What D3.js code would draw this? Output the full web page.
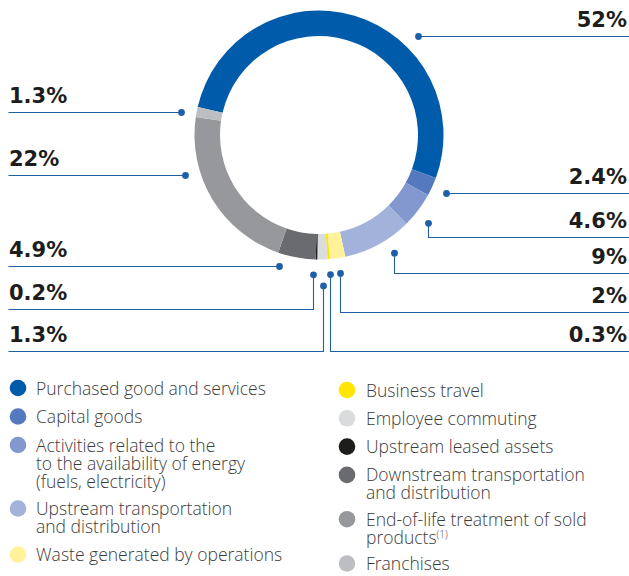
<!DOCTYPE html>
<html>
<head>
<meta charset="utf-8">
<script src="https://cdn.jsdelivr.net/npm/d3@7"></script>
<style>
  body { margin: 0; background: #fff; }
  svg { display: block; }
</style>
</head>
<body>
<svg id="chart" width="629" height="576"></svg>
<script>
// Scope 3 emission categories, in ring order (clockwise)
const categories = [
  "Purchased good and services",
  "Capital goods",
  "Activities related to the|to the availability of energy|(fuels, electricity)",
  "Upstream transportation|and distribution",
  "Waste generated by operations",
  "Business travel",
  "Employee commuting",
  "Upstream leased assets",
  "Downstream transportation|and distribution",
  "End-of-life treatment of sold|products^(1)",
  "Franchises"
];
// Share of emissions, %
const values = [52, 2.4, 4.6, 9, 2, 0.3, 1.3, 0.2, 4.9, 22, 1.3];
const colors = [
  "#005bab", "#5479bf", "#8298cf", "#a3b2da", "#fff29a", "#ffe500",
  "#dadbdc", "#1d1d1b", "#6a6b6f", "#97989b", "#bdbec1"
];
const valueLabels = values.map(v => v + "%");

// Leader-line layout for each slice's value label
// (da: nudge of the dot along the ring, in degrees)
const leaders = [
  { side: "right", y: 36,  mode: "level" },
  { side: "right", y: 193, mode: "level" },
  { side: "right", y: 237, mode: "elbow", da: 2 },
  { side: "right", y: 273, mode: "elbow", da: -4 },
  { side: "right", y: 312, mode: "elbow" },
  { side: "right", y: 351, mode: "elbow" },
  { side: "left",  y: 351, mode: "elbow", r: 151 },
  { side: "left",  y: 309, mode: "elbow", da: 1.5 },
  { side: "left",  y: 266, mode: "level", r: 137 },
  { side: "left",  y: 175, mode: "level" },
  { side: "left",  y: 112, mode: "level" }
];

const W = 629, H = 576;
const cx = 319, cy = 135;
const outerR = 124.5, innerR = 99, dotR = 140;
const lineColor = "#1f5fa8";
const textColor = "#1d1d1b";

const svg = d3.select("#chart");

const start = -77 * Math.PI / 180;
const pie = d3.pie().sort(null).value(d => d)
  .startAngle(start).endAngle(start + 2 * Math.PI);
const arcs = pie(values);
const arc = d3.arc().innerRadius(innerR).outerRadius(outerR);

const ring = svg.append("g").attr("transform", `translate(${cx},${cy})`);
ring.selectAll("path")
  .data(arcs)
  .join("path")
  .attr("d", arc)
  .attr("fill", (d, i) => colors[i]);

// Leader lines, dots and value labels
const ann = svg.append("g");
arcs.forEach((a, i) => {
  const L = leaders[i];
  const r = L.r || dotR;
  let dx, dy;
  if (L.mode === "level") {
    dy = L.y - cy;
    dx = Math.sqrt(Math.max(0, r * r - dy * dy)) * (L.side === "right" ? 1 : -1);
  } else {
    const m = (a.startAngle + a.endAngle) / 2 + (L.da || 0) * Math.PI / 180;
    dx = r * Math.sin(m);
    dy = -r * Math.cos(m);
  }
  const px = cx + dx, py = cy + dy;
  const endX = L.side === "right" ? W : 8;
  const pts = L.mode === "level"
    ? [[px, L.y], [endX, L.y]]
    : [[px, py], [px, L.y], [endX, L.y]];
  ann.append("path")
    .attr("d", d3.line()(pts.map(p => [Math.round(p[0]) + 0.5, Math.round(p[1]) + 0.5])))
    .attr("fill", "none")
    .attr("stroke", lineColor)
    .attr("stroke-width", 1.1);
  ann.append("circle")
    .attr("cx", Math.round(px) + 0.5)
    .attr("cy", L.mode === "level" ? L.y + 0.5 : py)
    .attr("r", 3.4)
    .attr("fill", lineColor);
  ann.append("text")
    .attr("x", L.side === "right" ? 627 : 9)
    .attr("y", L.y - 9.5)
    .attr("text-anchor", L.side === "right" ? "end" : "start")
    .attr("font-family", "'DejaVu Sans', sans-serif")
    .attr("font-weight", "bold")
    .attr("font-size", 21)
    .attr("fill", textColor)
    .text(valueLabels[i]);
});

// Legend: two columns
const legend = svg.append("g")
  .attr("font-family", "'Open Sans', sans-serif")
  .attr("font-size", 17.5)
  .attr("font-weight", 300)
  .attr("fill", "#3c3c3b");

const columns = [
  { from: 0, to: 5,  cxDot: 18,  tx: 36,  y0: 388, step: 28.5, extra: 17.5 },
  { from: 5, to: 11, cxDot: 347, tx: 366, y0: 390, step: 28.3, extra: 16 }
];
columns.forEach(col => {
  let y = col.y0;
  for (let i = col.from; i < col.to; i++) {
    const lines = categories[i].split("|");
    legend.append("circle")
      .attr("cx", col.cxDot).attr("cy", y).attr("r", 8.3)
      .attr("fill", colors[i]);
    const t = legend.append("text").attr("x", col.tx).attr("y", y + 6.5);
    lines.forEach((ln, k) => {
      const parts = ln.split("^");
      t.append("tspan")
        .attr("x", col.tx)
        .attr("dy", k === 0 ? 0 : 18)
        .text(parts[0]);
      if (parts[1]) {
        t.append("tspan")
          .attr("font-size", 10)
          .attr("dy", -6)
          .text(parts[1]);
      }
    });
    y += col.step + col.extra * (lines.length - 1);
  }
});
</script>
</body>
</html>
